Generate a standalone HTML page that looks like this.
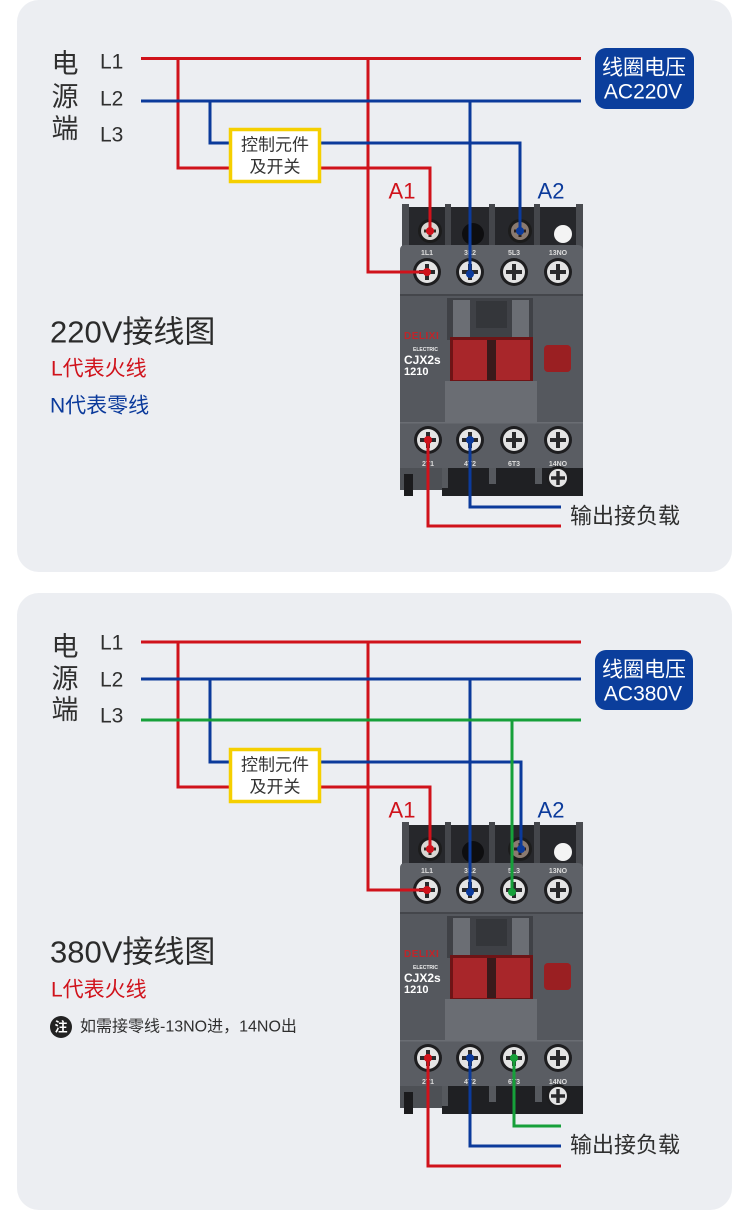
<!DOCTYPE html>
<html><head><meta charset="utf-8"><style>
html,body{margin:0;padding:0;background:#fff;}
svg{display:block;}
text{font-family:"Liberation Sans","Noto Sans CJK SC",sans-serif;}
</style></head><body>
<svg width="750" height="1227" viewBox="0 0 750 1227" xmlns="http://www.w3.org/2000/svg">
<rect width="750" height="1227" fill="#fff"/>
<rect x="17" y="0" width="715" height="572" rx="22" fill="#eceef2"/>
<rect x="17" y="593" width="715" height="617" rx="22" fill="#eceef2"/>

<!-- ============ PANEL 1 texts ============ -->
<g fill="#2f2f2f" font-size="27">
<text x="65" y="64" text-anchor="middle" dominant-baseline="central">电</text>
<text x="65" y="97" text-anchor="middle" dominant-baseline="central">源</text>
<text x="65" y="129" text-anchor="middle" dominant-baseline="central">端</text>
</g>
<g fill="#2f2f2f" font-size="21">
<text x="100" y="62" dominant-baseline="central">L1</text>
<text x="100" y="99" dominant-baseline="central">L2</text>
<text x="100" y="135" dominant-baseline="central">L3</text>
</g>
<text x="50" y="332" font-size="31" fill="#2b2b2b" dominant-baseline="central">220V接线图</text>
<text x="51" y="369" font-size="21" fill="#d0121b" dominant-baseline="central">L代表火线</text>
<text x="50" y="406" font-size="21" fill="#0b3a9b" dominant-baseline="central">N代表零线</text>

<rect x="595" y="48" width="99" height="61" rx="11" fill="#0b3e9c"/>
<text x="644" y="68" font-size="21" fill="#fff" text-anchor="middle" dominant-baseline="central">线圈电压</text>
<text x="643" y="92" font-size="21" fill="#fff" text-anchor="middle" dominant-baseline="central">AC220V</text>

<text x="402" y="191" font-size="22" fill="#d0121b" text-anchor="middle" dominant-baseline="central">A1</text>
<text x="551" y="191" font-size="22" fill="#0b3a9b" text-anchor="middle" dominant-baseline="central">A2</text>

<text x="570" y="516" font-size="22" fill="#2f2f2f" dominant-baseline="central">输出接负载</text>

<!-- ============ PANEL 2 texts ============ -->
<g fill="#2f2f2f" font-size="27">
<text x="65" y="647" text-anchor="middle" dominant-baseline="central">电</text>
<text x="65" y="679" text-anchor="middle" dominant-baseline="central">源</text>
<text x="65" y="710" text-anchor="middle" dominant-baseline="central">端</text>
</g>
<g fill="#2f2f2f" font-size="21">
<text x="100" y="643" dominant-baseline="central">L1</text>
<text x="100" y="680" dominant-baseline="central">L2</text>
<text x="100" y="716" dominant-baseline="central">L3</text>
</g>
<text x="50" y="952" font-size="31" fill="#2b2b2b" dominant-baseline="central">380V接线图</text>
<text x="51" y="990" font-size="21" fill="#d0121b" dominant-baseline="central">L代表火线</text>
<circle cx="61" cy="1027" r="11" fill="#222"/>
<text x="61" y="1027" font-size="13" fill="#fff" font-weight="bold" text-anchor="middle" dominant-baseline="central">注</text>
<text x="80" y="1027" font-size="16" fill="#2f2f2f" dominant-baseline="central">如需接零线-13NO进，14NO出</text>

<rect x="595" y="650" width="98" height="60" rx="11" fill="#0b3e9c"/>
<text x="644" y="670" font-size="21" fill="#fff" text-anchor="middle" dominant-baseline="central">线圈电压</text>
<text x="643" y="694" font-size="21" fill="#fff" text-anchor="middle" dominant-baseline="central">AC380V</text>

<text x="402" y="810" font-size="22" fill="#d0121b" text-anchor="middle" dominant-baseline="central">A1</text>
<text x="551" y="810" font-size="22" fill="#0b3a9b" text-anchor="middle" dominant-baseline="central">A2</text>

<text x="570" y="1145" font-size="22" fill="#2f2f2f" dominant-baseline="central">输出接负载</text>

<!-- ============ CONTACTOR 1 ============ -->
<g id="c1">
<rect x="402" y="207" width="181" height="42" fill="#26272b"/>
<rect x="402" y="204" width="7" height="45" fill="#4a4c51"/>
<rect x="445" y="204" width="6" height="45" fill="#44464b"/>
<rect x="489" y="204" width="6" height="45" fill="#44464b"/>
<rect x="534" y="204" width="6" height="45" fill="#44464b"/>
<rect x="576" y="204" width="7" height="45" fill="#4a4c51"/>
<circle cx="563" cy="234" r="9" fill="#f4f4f4"/>
<circle cx="473" cy="234" r="11" fill="#0e0e10"/>
<circle cx="430" cy="231" r="12" fill="#1c1c1c"/>
<circle cx="430" cy="231" r="9" fill="#d9d6d2"/>
<path d="M424,231H436M430,225V237" stroke="#3a2a22" stroke-width="3"/>
<circle cx="520" cy="231" r="12" fill="#1c1c1c"/>
<circle cx="520" cy="231" r="9" fill="#8a7a70"/>
<path d="M514,231H526M520,225V237" stroke="#2a2020" stroke-width="3"/>
<path d="M400,250Q400,245 405,245H578Q583,245 583,250V296H400Z" fill="#5e6167"/>
<g font-size="7" fill="#dcdcdc" text-anchor="middle" font-weight="bold">
<text x="427" y="255">1L1</text><text x="470" y="255">3L2</text><text x="514" y="255">5L3</text><text x="558" y="255">13NO</text>
</g>
<g>
<circle cx="427" cy="272" r="14" fill="#1e1e20"/><circle cx="427" cy="272" r="11" fill="#e4e4e4"/><path d="M419,272H435M427,264V280" stroke="#2a2a2c" stroke-width="4"/>
<circle cx="470" cy="272" r="14" fill="#1e1e20"/><circle cx="470" cy="272" r="11" fill="#e4e4e4"/><path d="M462,272H478M470,264V280" stroke="#2a2a2c" stroke-width="4"/>
<circle cx="514" cy="272" r="14" fill="#1e1e20"/><circle cx="514" cy="272" r="11" fill="#e4e4e4"/><path d="M506,272H522M514,264V280" stroke="#2a2a2c" stroke-width="4"/>
<circle cx="558" cy="272" r="14" fill="#1e1e20"/><circle cx="558" cy="272" r="11" fill="#e4e4e4"/><path d="M550,272H566M558,264V280" stroke="#2a2a2c" stroke-width="4"/>
</g>
<rect x="400" y="294" width="183" height="130" fill="#55585e"/>
<rect x="400" y="294" width="183" height="2" fill="#44464b"/>
<rect x="447" y="298" width="86" height="42" fill="#3f4146"/>
<rect x="453" y="300" width="17" height="45" fill="#6b6e74"/>
<rect x="512" y="300" width="17" height="45" fill="#6b6e74"/>
<rect x="476" y="301" width="31" height="27" fill="#34363a"/>
<rect x="450" y="337" width="83" height="45" fill="#6e1416"/>
<rect x="453" y="340" width="34" height="40" fill="#a8262a"/>
<rect x="496" y="340" width="34" height="40" fill="#a8262a"/>
<rect x="487" y="340" width="9" height="40" fill="#3a1a1b"/>
<rect x="445" y="381" width="92" height="42" fill="#6a6d73"/>
<rect x="544" y="345" width="27" height="27" rx="4" fill="#9a1f22"/>
<text x="404" y="339" font-size="10" font-weight="bold" fill="#c0252a" letter-spacing="0.5">DELIXI</text>
<text x="413" y="351" font-size="5" font-weight="bold" fill="#eee">ELECTRIC</text>
<text x="404" y="364" font-size="12" font-weight="bold" fill="#fff">CJX2s</text>
<text x="404" y="375" font-size="11" font-weight="bold" fill="#fff">1210</text>
<rect x="400" y="422" width="183" height="47" fill="#5a5d63"/>
<rect x="400" y="422" width="183" height="1.5" fill="#6a6d73"/>
<g>
<circle cx="428" cy="440" r="14" fill="#1e1e20"/><circle cx="428" cy="440" r="11" fill="#e4e4e4"/><path d="M420,440H436M428,432V448" stroke="#2a2a2c" stroke-width="4"/>
<circle cx="470" cy="440" r="14" fill="#1e1e20"/><circle cx="470" cy="440" r="11" fill="#e4e4e4"/><path d="M462,440H478M470,432V448" stroke="#2a2a2c" stroke-width="4"/>
<circle cx="514" cy="440" r="14" fill="#1e1e20"/><circle cx="514" cy="440" r="11" fill="#e4e4e4"/><path d="M506,440H522M514,432V448" stroke="#2a2a2c" stroke-width="4"/>
<circle cx="558" cy="440" r="14" fill="#1e1e20"/><circle cx="558" cy="440" r="11" fill="#e4e4e4"/><path d="M550,440H566M558,432V448" stroke="#2a2a2c" stroke-width="4"/>
</g>
<g font-size="7" fill="#dcdcdc" text-anchor="middle" font-weight="bold">
<text x="428" y="466">2T1</text><text x="470" y="466">4T2</text><text x="514" y="466">6T3</text><text x="558" y="466">14NO</text>
</g>
<rect x="400" y="468" width="42" height="22" fill="#4d5055"/>
<rect x="404" y="474" width="9" height="22" fill="#1b1b1d"/>
<rect x="442" y="468" width="141" height="28" fill="#1f2023"/>
<rect x="442" y="468" width="6" height="20" fill="#56595e"/>
<rect x="489" y="468" width="7" height="16" fill="#56595e"/>
<rect x="535" y="468" width="7" height="16" fill="#56595e"/>
<circle cx="558" cy="478" r="12" fill="#1e1e20"/><circle cx="558" cy="478" r="9" fill="#e4e4e4"/><path d="M551,478H565M558,471V485" stroke="#2a2a2c" stroke-width="3.5"/>
</g>

<!-- ============ CONTACTOR 2 (copy) ============ -->
<g transform="translate(0,618)">
<rect x="402" y="207" width="181" height="42" fill="#26272b"/>
<rect x="402" y="204" width="7" height="45" fill="#4a4c51"/>
<rect x="445" y="204" width="6" height="45" fill="#44464b"/>
<rect x="489" y="204" width="6" height="45" fill="#44464b"/>
<rect x="534" y="204" width="6" height="45" fill="#44464b"/>
<rect x="576" y="204" width="7" height="45" fill="#4a4c51"/>
<circle cx="563" cy="234" r="9" fill="#f4f4f4"/>
<circle cx="473" cy="234" r="11" fill="#0e0e10"/>
<circle cx="430" cy="231" r="12" fill="#1c1c1c"/>
<circle cx="430" cy="231" r="9" fill="#d9d6d2"/>
<path d="M424,231H436M430,225V237" stroke="#3a2a22" stroke-width="3"/>
<circle cx="520" cy="231" r="12" fill="#1c1c1c"/>
<circle cx="520" cy="231" r="9" fill="#8a7a70"/>
<path d="M514,231H526M520,225V237" stroke="#2a2020" stroke-width="3"/>
<path d="M400,250Q400,245 405,245H578Q583,245 583,250V296H400Z" fill="#5e6167"/>
<g font-size="7" fill="#dcdcdc" text-anchor="middle" font-weight="bold">
<text x="427" y="255">1L1</text><text x="470" y="255">3L2</text><text x="514" y="255">5L3</text><text x="558" y="255">13NO</text>
</g>
<g>
<circle cx="427" cy="272" r="14" fill="#1e1e20"/><circle cx="427" cy="272" r="11" fill="#e4e4e4"/><path d="M419,272H435M427,264V280" stroke="#2a2a2c" stroke-width="4"/>
<circle cx="470" cy="272" r="14" fill="#1e1e20"/><circle cx="470" cy="272" r="11" fill="#e4e4e4"/><path d="M462,272H478M470,264V280" stroke="#2a2a2c" stroke-width="4"/>
<circle cx="514" cy="272" r="14" fill="#1e1e20"/><circle cx="514" cy="272" r="11" fill="#e4e4e4"/><path d="M506,272H522M514,264V280" stroke="#2a2a2c" stroke-width="4"/>
<circle cx="558" cy="272" r="14" fill="#1e1e20"/><circle cx="558" cy="272" r="11" fill="#e4e4e4"/><path d="M550,272H566M558,264V280" stroke="#2a2a2c" stroke-width="4"/>
</g>
<rect x="400" y="294" width="183" height="130" fill="#55585e"/>
<rect x="400" y="294" width="183" height="2" fill="#44464b"/>
<rect x="447" y="298" width="86" height="42" fill="#3f4146"/>
<rect x="453" y="300" width="17" height="45" fill="#6b6e74"/>
<rect x="512" y="300" width="17" height="45" fill="#6b6e74"/>
<rect x="476" y="301" width="31" height="27" fill="#34363a"/>
<rect x="450" y="337" width="83" height="45" fill="#6e1416"/>
<rect x="453" y="340" width="34" height="40" fill="#a8262a"/>
<rect x="496" y="340" width="34" height="40" fill="#a8262a"/>
<rect x="487" y="340" width="9" height="40" fill="#3a1a1b"/>
<rect x="445" y="381" width="92" height="42" fill="#6a6d73"/>
<rect x="544" y="345" width="27" height="27" rx="4" fill="#9a1f22"/>
<text x="404" y="339" font-size="10" font-weight="bold" fill="#c0252a" letter-spacing="0.5">DELIXI</text>
<text x="413" y="351" font-size="5" font-weight="bold" fill="#eee">ELECTRIC</text>
<text x="404" y="364" font-size="12" font-weight="bold" fill="#fff">CJX2s</text>
<text x="404" y="375" font-size="11" font-weight="bold" fill="#fff">1210</text>
<rect x="400" y="422" width="183" height="47" fill="#5a5d63"/>
<rect x="400" y="422" width="183" height="1.5" fill="#6a6d73"/>
<g>
<circle cx="428" cy="440" r="14" fill="#1e1e20"/><circle cx="428" cy="440" r="11" fill="#e4e4e4"/><path d="M420,440H436M428,432V448" stroke="#2a2a2c" stroke-width="4"/>
<circle cx="470" cy="440" r="14" fill="#1e1e20"/><circle cx="470" cy="440" r="11" fill="#e4e4e4"/><path d="M462,440H478M470,432V448" stroke="#2a2a2c" stroke-width="4"/>
<circle cx="514" cy="440" r="14" fill="#1e1e20"/><circle cx="514" cy="440" r="11" fill="#e4e4e4"/><path d="M506,440H522M514,432V448" stroke="#2a2a2c" stroke-width="4"/>
<circle cx="558" cy="440" r="14" fill="#1e1e20"/><circle cx="558" cy="440" r="11" fill="#e4e4e4"/><path d="M550,440H566M558,432V448" stroke="#2a2a2c" stroke-width="4"/>
</g>
<g font-size="7" fill="#dcdcdc" text-anchor="middle" font-weight="bold">
<text x="428" y="466">2T1</text><text x="470" y="466">4T2</text><text x="514" y="466">6T3</text><text x="558" y="466">14NO</text>
</g>
<rect x="400" y="468" width="42" height="22" fill="#4d5055"/>
<rect x="404" y="474" width="9" height="22" fill="#1b1b1d"/>
<rect x="442" y="468" width="141" height="28" fill="#1f2023"/>
<rect x="442" y="468" width="6" height="20" fill="#56595e"/>
<rect x="489" y="468" width="7" height="16" fill="#56595e"/>
<rect x="535" y="468" width="7" height="16" fill="#56595e"/>
<circle cx="558" cy="478" r="12" fill="#1e1e20"/><circle cx="558" cy="478" r="9" fill="#e4e4e4"/><path d="M551,478H565M558,471V485" stroke="#2a2a2c" stroke-width="3.5"/>
</g>

<!-- ============ WIRES PANEL 1 ============ -->
<g fill="none" stroke-width="3" stroke-linejoin="miter">
<path d="M141,58.5H581" stroke="#d0121b"/>
<path d="M178,58.5V168H232" stroke="#d0121b"/>
<path d="M318,168H430V231" stroke="#d0121b"/>
<path d="M368,58.5V272H427" stroke="#d0121b"/>
<path d="M428,440V526H561" stroke="#d0121b"/>
<path d="M141,101H581" stroke="#0b3a9b"/>
<path d="M210,101V143H232" stroke="#0b3a9b"/>
<path d="M318,143H520V231" stroke="#0b3a9b"/>
<path d="M470,101V274" stroke="#0b3a9b"/>
<path d="M470,440V507H561" stroke="#0b3a9b"/>
</g>
<g>
<circle cx="430" cy="231" r="4" fill="#d0121b"/>
<circle cx="427" cy="272" r="4" fill="#d0121b"/>
<circle cx="428" cy="440" r="4" fill="#d0121b"/>
<circle cx="520" cy="231" r="4" fill="#0b3a9b"/>
<circle cx="470" cy="274" r="4" fill="#0b3a9b"/>
<circle cx="470" cy="440" r="4" fill="#0b3a9b"/>
</g>
<rect x="230.5" y="129.5" width="89" height="52" fill="#fff" stroke="#f5cf00" stroke-width="3.5"/>
<text x="275" y="145" font-size="17" fill="#333" text-anchor="middle" dominant-baseline="central">控制元件</text>
<text x="275" y="167" font-size="17" fill="#333" text-anchor="middle" dominant-baseline="central">及开关</text>

<!-- ============ WIRES PANEL 2 ============ -->
<g fill="none" stroke-width="3">
<path d="M141,642H581" stroke="#d0121b"/>
<path d="M178,642V787H232" stroke="#d0121b"/>
<path d="M318,787H430V849" stroke="#d0121b"/>
<path d="M368,642V890H427" stroke="#d0121b"/>
<path d="M428,1058V1166H561" stroke="#d0121b"/>
<path d="M141,679H581" stroke="#0b3a9b"/>
<path d="M210,679V762H232" stroke="#0b3a9b"/>
<path d="M318,762H521V849" stroke="#0b3a9b"/>
<path d="M470,679V892" stroke="#0b3a9b"/>
<path d="M470,1058V1146H561" stroke="#0b3a9b"/>
<path d="M141,720H581" stroke="#16a03a"/>
<path d="M512,720V892" stroke="#16a03a"/>
<path d="M514,1058V1126H561" stroke="#16a03a"/>
</g>
<g>
<circle cx="430" cy="849" r="4" fill="#d0121b"/>
<circle cx="427" cy="890" r="4" fill="#d0121b"/>
<circle cx="428" cy="1058" r="4" fill="#d0121b"/>
<circle cx="521" cy="849" r="4" fill="#0b3a9b"/>
<circle cx="470" cy="892" r="4" fill="#0b3a9b"/>
<circle cx="470" cy="1058" r="4" fill="#0b3a9b"/>
<circle cx="512" cy="892" r="4" fill="#16a03a"/>
<circle cx="514" cy="1058" r="4" fill="#16a03a"/>
</g>
<rect x="230.5" y="749.5" width="89" height="52" fill="#fff" stroke="#f5cf00" stroke-width="3.5"/>
<text x="275" y="765" font-size="17" fill="#333" text-anchor="middle" dominant-baseline="central">控制元件</text>
<text x="275" y="787" font-size="17" fill="#333" text-anchor="middle" dominant-baseline="central">及开关</text>
</svg>
</body></html>
